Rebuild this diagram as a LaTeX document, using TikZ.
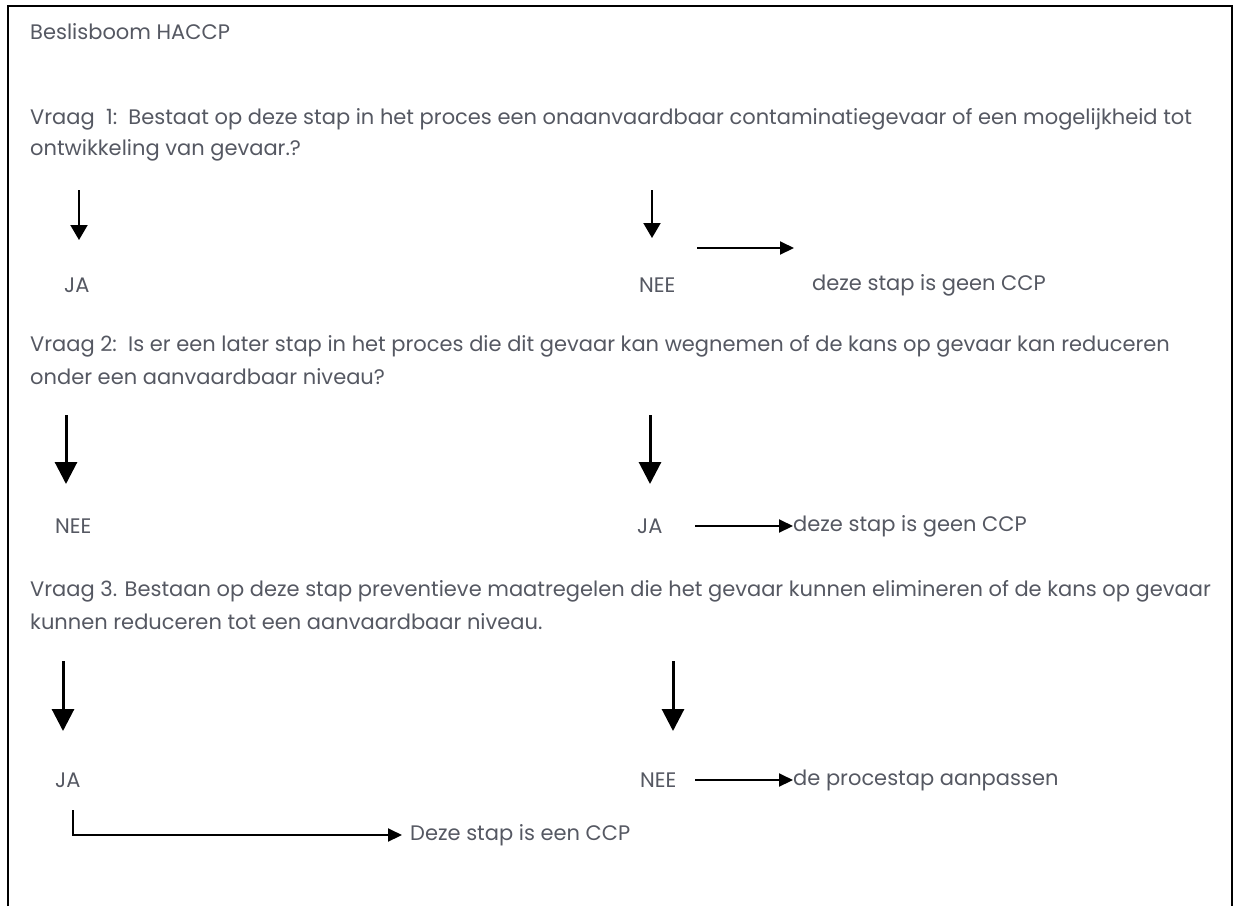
\documentclass[tikz,border=0pt]{standalone}
\usepackage{fontspec}
\setmainfont{Poppins}
\usetikzlibrary{arrows.meta}
\definecolor{txt}{RGB}{85,88,98}
\tikzset{
  lbl/.style={anchor=west,inner sep=0pt,text=txt,font=\fontsize{21}{25}\selectfont},
  thin arr/.style={line width=2pt,-{Triangle[width=17pt,length=15pt]}},
  thick arr/.style={line width=3pt,-{Triangle[width=22pt,length=22pt]}},
  side arr/.style={line width=2pt,-{Triangle[width=13pt,length=14pt]}},
}
\begin{document}
\begin{tikzpicture}[x=1pt,y=-1pt]
\useasboundingbox (0,0) rectangle (1234,906);
\draw[line width=2pt] (8,906) -- (8,6) -- (1232,6) -- (1232,906);

\node[lbl] (title) at (30,32) {Beslisboom HACCP};
\node[lbl] (q1a) at (30,119) {Vraag\ \ 1:\ \ Bestaat op deze stap in het proces een onaanvaardbaar contaminatiegevaar of een mogelijkheid tot};
\node[lbl] (q1b) at (30,150) {ontwikkeling van gevaar.?};

\coordinate (a1s) at (79,190); \coordinate (a1e) at (79,240);
\coordinate (b1s) at (652,190); \coordinate (b1e) at (652,238);
\coordinate (c1s) at (697,248); \coordinate (c1e) at (794,248);
\draw[thin arr] (a1s) -- (a1e);
\draw[thin arr] (b1s) -- (b1e);
\draw[side arr] (c1s) -- (c1e);
\node[lbl] (ja1) at (64,285) {JA};
\node[lbl] (nee1) at (639,285) {NEE};
\node[lbl] (geen1) at (812,285) {deze stap is geen CCP};

\node[lbl] (q2a) at (30,346) {Vraag 2:\ \ Is er een later stap in het proces die dit gevaar kan wegnemen of de kans op gevaar kan reduceren};
\node[lbl] (q2b) at (30,377) {onder een aanvaardbaar niveau?};

\coordinate (a2s) at (66,415); \coordinate (a2e) at (66,484);
\coordinate (b2s) at (650,415); \coordinate (b2e) at (650,484);
\draw[thick arr] (a2s) -- (a2e);
\draw[thick arr] (b2s) -- (b2e);
\node[lbl] (nee2) at (55,526) {NEE};
\node[lbl] (ja2) at (637,526) {JA};
\node[lbl] (geen2) at (793,526) {deze stap is geen CCP};
\coordinate (c2s) at (695,526);
\draw[side arr] (c2s) -- (geen2.west);

\node[lbl] (q3a) at (30,591) {Vraag 3. Bestaan op deze stap preventieve maatregelen die het gevaar kunnen elimineren of de kans op gevaar};
\node[lbl] (q3b) at (30,622) {kunnen reduceren tot een aanvaardbaar niveau.};

\coordinate (a3s) at (63,661); \coordinate (a3e) at (63,731);
\coordinate (b3s) at (673,661); \coordinate (b3e) at (673,731);
\draw[thick arr] (a3s) -- (a3e);
\draw[thick arr] (b3s) -- (b3e);
\node[lbl] (ja3) at (55,780) {JA};
\node[lbl] (nee3) at (640,780) {NEE};
\node[lbl] (aanp) at (793,780) {de procestap aanpassen};
\coordinate (c3s) at (695,780);
\draw[side arr] (c3s) -- (aanp.west);

\coordinate (elb) at (73,810);
\node[lbl] (ccp) at (410,835) {Deze stap is een CCP};
\draw[side arr] (elb) |- ([xshift=-8pt]ccp.west);
\end{tikzpicture}
\end{document}
